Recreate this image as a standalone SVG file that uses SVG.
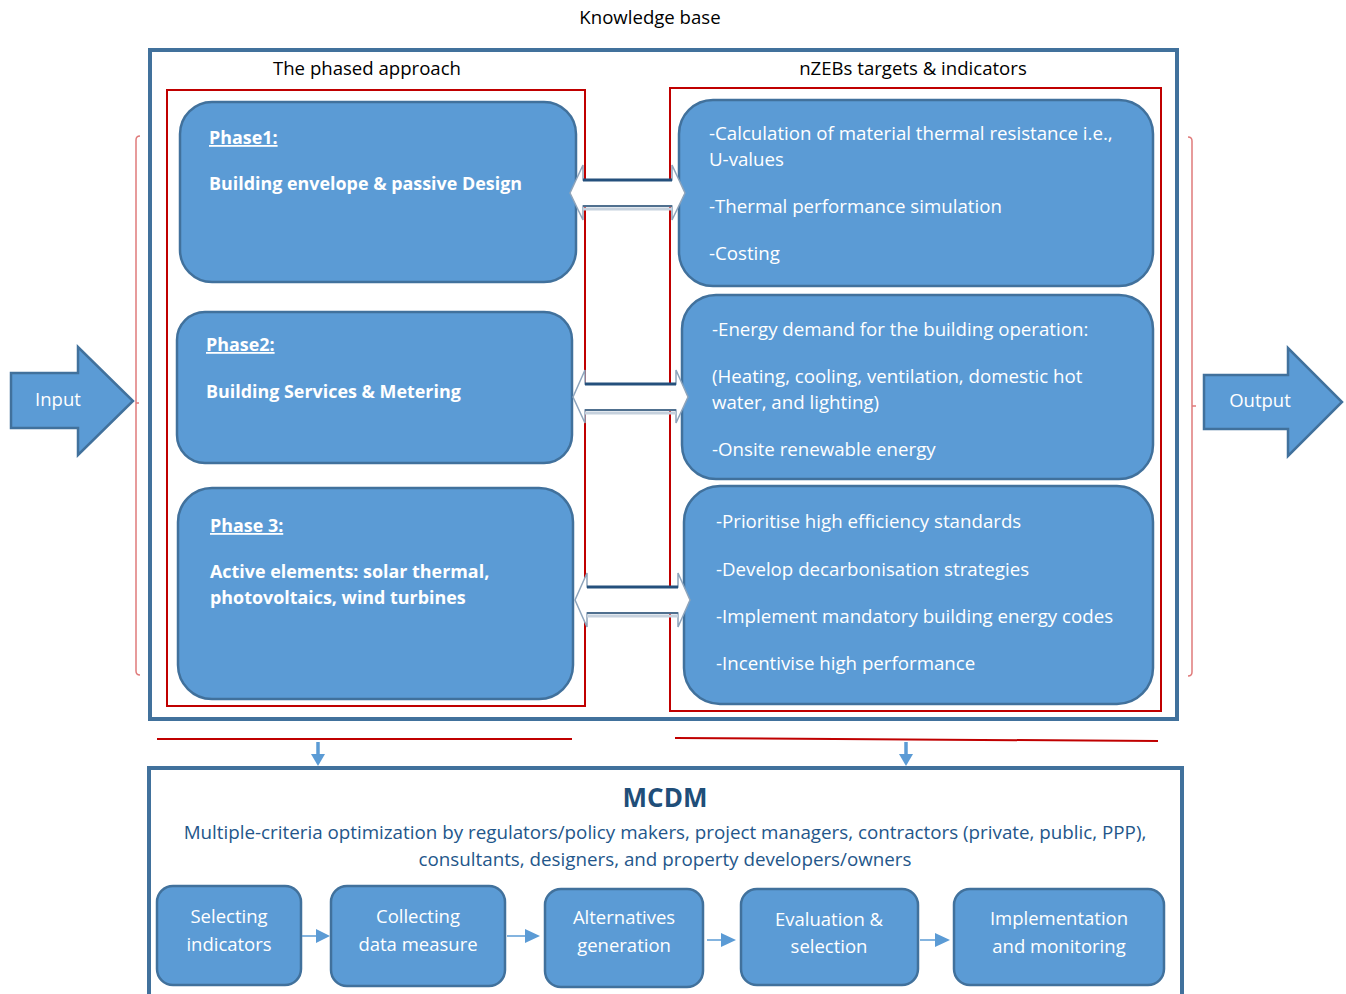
<svg xmlns="http://www.w3.org/2000/svg" width="1346" height="994" viewBox="0 0 1346 994">
<style>
text{font-family:"Open Sans",Lato,"Liberation Sans",sans-serif}
.box{fill:#5b9bd5;stroke:#41719c;stroke-width:2.5}
.frame{fill:none;stroke:#41719c;stroke-width:4}
.red{fill:none;stroke:#c00000;stroke-width:2}
.hdr{font-size:18.6px;fill:#000;text-anchor:middle}
.ph{font-size:17.9px;fill:#fff;font-weight:bold}
.rt{font-size:18.7px;fill:#fff}
.bt{font-size:18.5px;fill:#fff;text-anchor:middle}
.brk{fill:none;stroke:#e07b7b;stroke-width:1.5}
.dbl{fill:#fff;stroke:#8ea4bb;stroke-width:1.5}
.dtop{stroke:#24507c;stroke-width:3}
.dbot{stroke:#50708f;stroke-width:2}
.dsh{stroke:#c6d1dd;stroke-width:3}
.conn{stroke:#5b9bd5;fill:none}
.head{fill:#5b9bd5}
</style>
<rect width="1346" height="994" fill="#fff"/>
<text class="hdr" x="650" y="24">Knowledge base</text>
<rect class="frame" x="150" y="50" width="1027" height="669"/>
<text class="hdr" x="367" y="75">The phased approach</text>
<text class="hdr" x="913" y="75">nZEBs targets &amp; indicators</text>
<rect class="red" x="167" y="90" width="418" height="616"/>
<rect class="red" x="670" y="88" width="491" height="623"/>
<path class="brk" d="M140,136 Q136,136 136,140 L136,671 Q136,675 140,675 M136,403 L139,403"/>
<path class="brk" d="M1188,137 Q1192,137 1192,141 L1192,672 Q1192,676 1188,676 M1192,406 L1196,406"/>
<g id="input">
<polygon class="box" points="11,373 78,373 78,347 133,401 78,455 78,428 11,428"/>
<text class="bt" x="58" y="406">Input</text>
</g>
<g id="output">
<polygon class="box" points="1204,375 1288,375 1288,348 1342,402 1288,456 1288,429 1204,429"/>
<text class="bt" x="1260" y="407">Output</text>
</g>
<g id="phase1">
<rect class="box" x="180" y="102" width="396" height="180" rx="32"/>
<text class="ph" x="209" y="144" text-decoration="underline">Phase1:</text>
<text class="ph" x="209" y="190">Building envelope &amp; passive Design</text>
</g>
<g id="phase2">
<rect class="box" x="177" y="312" width="395" height="151" rx="28"/>
<text class="ph" x="206" y="351" text-decoration="underline">Phase2:</text>
<text class="ph" x="206" y="398">Building Services &amp; Metering</text>
</g>
<g id="phase3">
<rect class="box" x="178" y="488" width="395" height="211" rx="34"/>
<text class="ph" x="210" y="532" text-decoration="underline">Phase 3:</text>
<text class="ph" x="210" y="578">Active elements: solar thermal,</text>
<text class="ph" x="210" y="604">photovoltaics, wind turbines</text>
</g>
<g id="target1">
<rect class="box" x="679" y="100" width="474" height="186" rx="34"/>
<text class="rt" x="709" y="140">-Calculation of material thermal resistance i.e.,</text>
<text class="rt" x="709" y="166">U-values</text>
<text class="rt" x="709" y="213">-Thermal performance simulation</text>
<text class="rt" x="709" y="260">-Costing</text>
</g>
<g id="target2">
<rect class="box" x="682" y="295" width="471" height="184" rx="34"/>
<text class="rt" x="712" y="336">-Energy demand for the building operation:</text>
<text class="rt" x="712" y="383">(Heating, cooling, ventilation, domestic hot</text>
<text class="rt" x="712" y="409">water, and lighting)</text>
<text class="rt" x="712" y="456">-Onsite renewable energy</text>
</g>
<g id="target3">
<rect class="box" x="684" y="486" width="469" height="218" rx="36"/>
<text class="rt" x="716" y="528">-Prioritise high efficiency standards</text>
<text class="rt" x="716" y="576">-Develop decarbonisation strategies</text>
<text class="rt" x="716" y="623">-Implement mandatory building energy codes</text>
<text class="rt" x="716" y="670">-Incentivise high performance</text>
</g>
<g id="mcdm">
<rect class="frame" x="149" y="768" width="1033" height="240"/>
<text x="665" y="807" font-size="26" font-weight="bold" fill="#1f4e79" text-anchor="middle">MCDM</text>
<text x="665" y="839" font-size="18.8" fill="#23568a" text-anchor="middle">Multiple-criteria optimization by regulators/policy makers, project managers, contractors (private, public, PPP),</text>
<text x="665" y="866" font-size="18.8" fill="#23568a" text-anchor="middle">consultants, designers, and property developers/owners</text>
</g>
<g id="step1">
<rect class="box" x="157" y="886" width="144" height="99" rx="16"/>
<text class="bt" x="229" y="923">Selecting</text>
<text class="bt" x="229" y="951">indicators</text>
</g>
<g id="step2">
<rect class="box" x="331" y="886" width="174" height="100" rx="16"/>
<text class="bt" x="418" y="923">Collecting</text>
<text class="bt" x="418" y="951">data measure</text>
</g>
<g id="step3">
<rect class="box" x="545" y="889" width="158" height="98" rx="16"/>
<text class="bt" x="624" y="924">Alternatives</text>
<text class="bt" x="624" y="952">generation</text>
</g>
<g id="step4">
<rect class="box" x="741" y="889" width="177" height="96" rx="16"/>
<text class="bt" x="829" y="926">Evaluation &amp;</text>
<text class="bt" x="829" y="953">selection</text>
</g>
<g id="step5">
<rect class="box" x="954" y="889" width="210" height="96" rx="16"/>
<text class="bt" x="1059" y="925">Implementation</text>
<text class="bt" x="1059" y="953">and monitoring</text>
</g>
<g id="connectors">
<g id="dbl1">
<polygon class="dbl" points="570,193 583,165 583,180 672,180 672,165 685,193 672,220 672,206 583,206 583,220"/>
<line class="dsh" x1="583" y1="209" x2="672" y2="209"/>
<line class="dbot" x1="583" y1="206" x2="672" y2="206"/>
<line class="dtop" x1="583" y1="180" x2="672" y2="180"/>
</g>
<g id="dbl2">
<polygon class="dbl" points="573,397 585,370 585,384 676,384 676,370 688,397 676,423 676,410 585,410 585,423"/>
<line class="dsh" x1="585" y1="413" x2="676" y2="413"/>
<line class="dbot" x1="585" y1="410" x2="676" y2="410"/>
<line class="dtop" x1="585" y1="384" x2="676" y2="384"/>
</g>
<g id="dbl3">
<polygon class="dbl" points="575,600 587,573 587,587 678,587 678,573 690,600 678,627 678,613 587,613 587,627"/>
<line class="dsh" x1="587" y1="616" x2="678" y2="616"/>
<line class="dbot" x1="587" y1="613" x2="678" y2="613"/>
<line class="dtop" x1="587" y1="587" x2="678" y2="587"/>
</g>
<line x1="157" y1="739" x2="572" y2="739" stroke="#c00000" stroke-width="2"/>
<line x1="675" y1="738" x2="1158" y2="741" stroke="#c00000" stroke-width="2"/>
<line class="conn" x1="318" y1="742" x2="318" y2="756" stroke-width="3.5"/>
<polygon class="head" points="311,754 325,754 318,766"/>
<line class="conn" x1="906" y1="742" x2="906" y2="756" stroke-width="3.5"/>
<polygon class="head" points="899,754 913,754 906,766"/>
<line class="conn" x1="302" y1="936" x2="318" y2="936" stroke-width="1.5"/>
<polygon class="head" points="316,929 330,936 316,943"/>
<line class="conn" x1="507" y1="936" x2="526" y2="936" stroke-width="1.5"/>
<polygon class="head" points="525,929 540,936 525,943"/>
<line class="conn" x1="707" y1="940" x2="722" y2="940" stroke-width="1.5"/>
<polygon class="head" points="721,933 736,940 721,947"/>
<line class="conn" x1="920" y1="940" x2="936" y2="940" stroke-width="1.5"/>
<polygon class="head" points="935,933 950,940 935,947"/>
</g>
</svg>
